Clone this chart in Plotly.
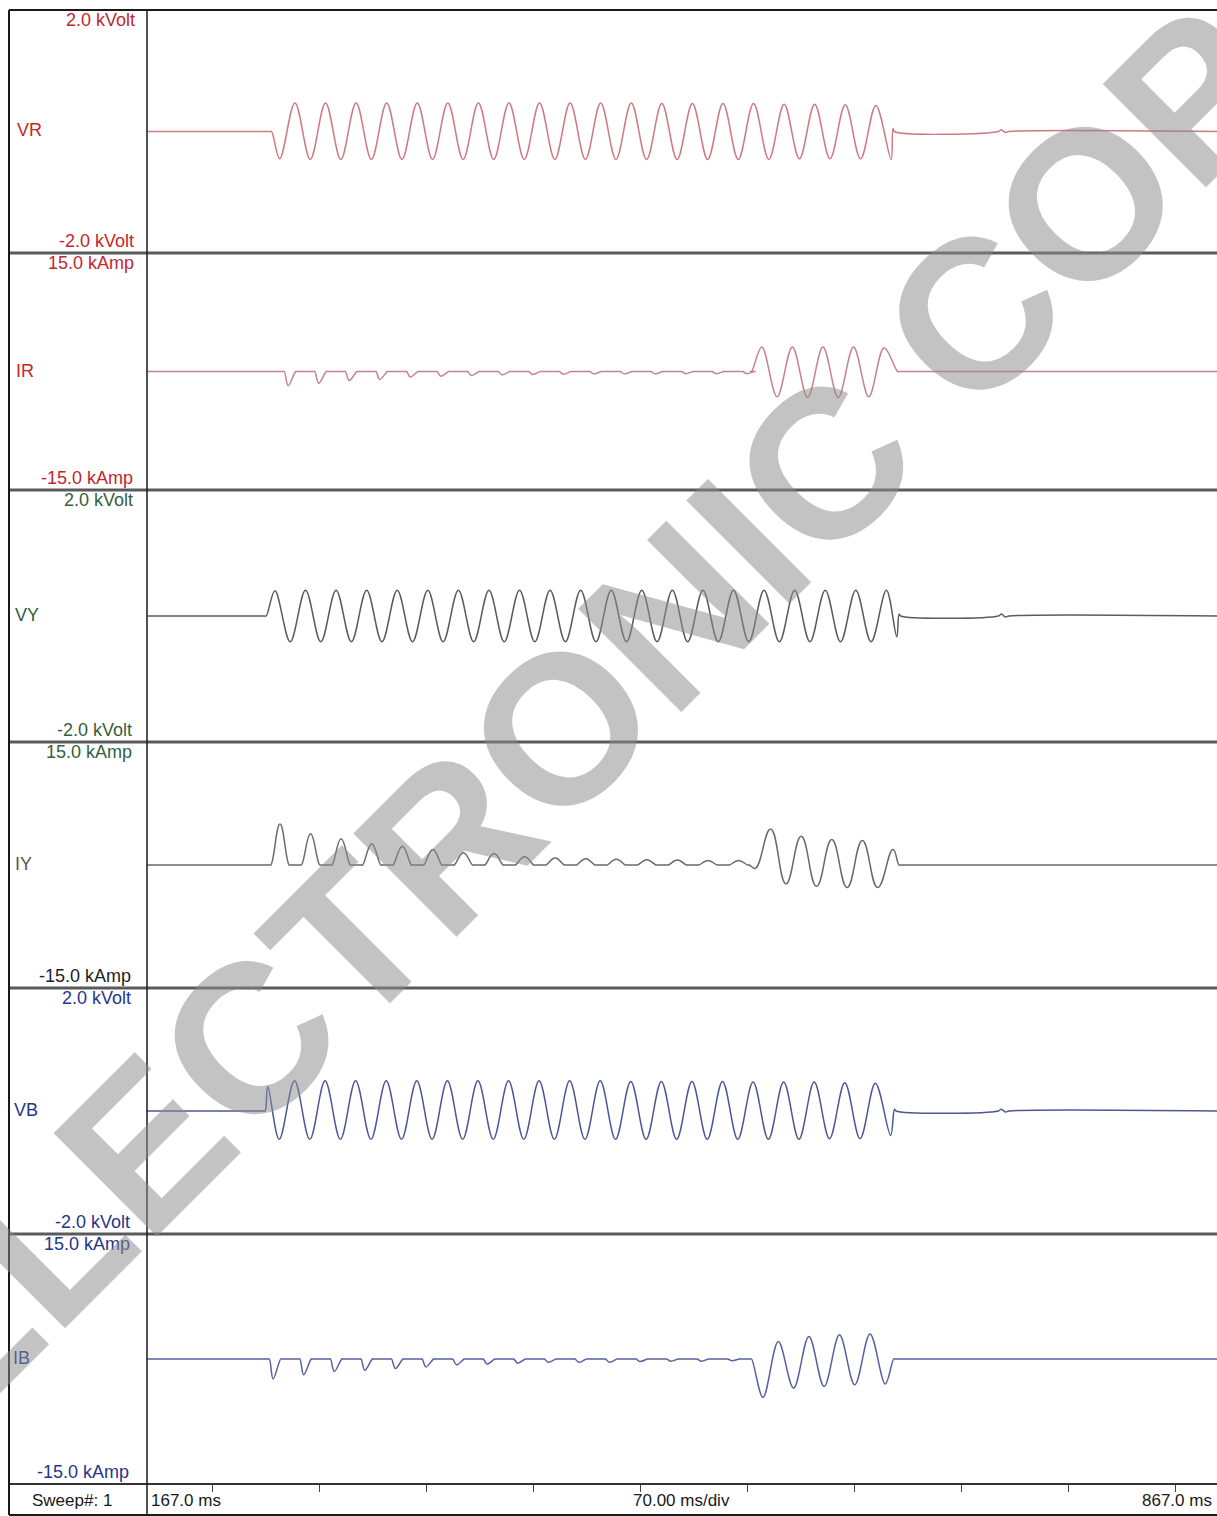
import plotly.graph_objects as go

W, H = 1217, 1516

# ---------------- data ----------------
T_START, T_END = 167.0, 867.0          # ms
TICK_TIMES = [210, 280, 350, 420, 490, 560, 630, 700, 770, 840]

CHANNELS = ["VR", "IR", "VY", "IY", "VB", "IB"]
TOP_LABELS = ["2.0 kVolt", "15.0 kAmp", "2.0 kVolt", "15.0 kAmp", "2.0 kVolt", "15.0 kAmp"]
BOTTOM_LABELS = ["-2.0 kVolt", "-15.0 kAmp", "-2.0 kVolt", "-15.0 kAmp", "-2.0 kVolt", "-15.0 kAmp"]
FULL_SCALE = [2.0, 15.0, 2.0, 15.0, 2.0, 15.0]

HALF_PERIOD = 10.0   # ms between successive extrema (50 Hz)
PULSE_PERIOD = 20.0  # ms between successive current pulses

# VR (kV)
VR_ON, VR_EXT_T0 = 248.5, 253.8
VR_EXT = [-0.45, 0.47, -0.46, 0.47, -0.46, 0.47, -0.46, 0.47, -0.46, 0.47,
          -0.46, 0.47, -0.46, 0.47, -0.46, 0.47, -0.46, 0.47, -0.46, 0.47,
          -0.46, 0.47, -0.46, 0.47, -0.46, 0.46, -0.46, 0.46, -0.46, 0.46,
          -0.46, 0.46, -0.46, 0.45, -0.45, 0.45, -0.45, 0.44, -0.45, 0.43, -0.46]
VR_TAIL_T = [655.0, 656.0]
VR_TAIL_V = [0.05, 0.0]

# IR (kA)
IR_DIP_T0 = 259.3
IR_DIPS = [-1.8, -1.5, -1.15, -1.0, -0.7, -0.6, -0.5, -0.42,
           -0.38, -0.34, -0.3, -0.3, -0.3, -0.27, -0.27, -0.27]
IR_ON, IR_EXT_T0, IR_OFF = 562.5, 569.2, 658.0
IR_EXT = [3.1, -3.2, 3.1, -3.3, 3.1, -3.3, 3.1, -3.2, 3.0]

# VY (kV)
VY_ON, VY_EXT_T0 = 245.0, 250.7
VY_EXT = [0.40, -0.41, 0.41, -0.41, 0.41, -0.41, 0.41, -0.41, 0.41, -0.41,
          0.41, -0.41, 0.41, -0.41, 0.41, -0.41, 0.41, -0.41, 0.41, -0.41,
          0.41, -0.41, 0.41, -0.41, 0.41, -0.41, 0.41, -0.41, 0.41, -0.41,
          0.41, -0.41, 0.41, -0.41, 0.41, -0.41, 0.41, -0.41, 0.41, -0.41, 0.41]
VY_TAIL_T = [657.5, 659.0, 660.0]
VY_TAIL_V = [-0.33, 0.03, 0.0]

# IY (kA)
IY_PULSE_T0 = 254.0
IY_PULSES = [5.0, 3.8, 3.2, 2.6, 2.3, 1.9, 1.5, 1.4,
             1.0, 0.85, 0.75, 0.7, 0.65, 0.6, 0.55, 0.55]
IY_ON, IY_EXT_T0, IY_OFF = 561.0, 565.0, 659.0
IY_EXT = [-0.4, 4.4, -2.3, 3.5, -2.6, 3.1, -2.75, 3.0, -2.75, 1.9]

# VB (kV)
VB_ON, VB_EXT_T0 = 244.3, 253.5
VB_HEAD_T = [246.0]
VB_HEAD_V = [0.40]
VB_EXT = [-0.46, 0.49, -0.46, 0.49, -0.46, 0.49, -0.46, 0.49, -0.46, 0.49,
          -0.46, 0.49, -0.46, 0.49, -0.46, 0.49, -0.46, 0.49, -0.46, 0.49,
          -0.46, 0.49, -0.46, 0.48, -0.46, 0.48, -0.46, 0.48, -0.46, 0.48,
          -0.46, 0.47, -0.46, 0.47, -0.46, 0.47, -0.45, 0.46, -0.45, 0.45, -0.40]
VB_TAIL_T = [656.0, 657.0]
VB_TAIL_V = [0.03, 0.0]

# IB (kA)
IB_DIP_T0 = 249.5
IB_DIPS = [-2.4, -1.9, -1.5, -1.35, -1.15, -0.95, -0.7, -0.6,
           -0.5, -0.4, -0.4, -0.4, -0.3, -0.27, -0.27, -0.2]
IB_ON, IB_EXT_T0, IB_OFF = 562.5, 570.0, 655.5
IB_EXT = [-4.6, 2.1, -3.5, 2.7, -3.3, 2.9, -3.1, 3.0, -3.0]

# small post-event ripple seen on the voltage traces
RIPPLE_T = [724.0, 726.0, 728.5, 731.0]
RIPPLE_V = [0.0, 0.03, -0.015, 0.0]

# ---------------- styling ----------------
LINE_COLORS = ["#cd7a80", "#c48489", "#5c5c5c", "#6a6a6a", "#4c5797", "#56619f"]
TEXT_COLORS = ["#c4262c", "#c4262c", "#33603d", "#33603d", "#27348b", "#27348b"]
BOTTOM_TEXT_COLORS = ["#c4262c", "#c4262c", "#33603d", "#1e1e1e", "#27348b", "#27348b"]
NAME_COLORS = ["#c4262c", "#c4262c", "#33603d", "#555555", "#27348b", "#27348b"]

SEP_Y = [10, 253, 490, 742, 988, 1234, 1484]   # pixel rows of the separators
LEFT_X, DIV_X = 9, 147
FONT = "Liberation Sans, Arial, sans-serif"


# ---------------- build traces from the data ----------------
def osc(on, t0, ext, off=None):
    t, v = [on - 1.0, on], [0.0, 0.0]
    for i, val in enumerate(ext):
        t.append(t0 + HALF_PERIOD * i)
        v.append(val)
    if off is not None:
        t += [off, off + 1.0]
        v += [0.0, 0.0]
    return t, v


def pulses(t0, vals, wl, wr):
    t, v = [], []
    for i, val in enumerate(vals):
        c = t0 + PULSE_PERIOD * i
        t += [c - wl - 1.0, c - wl, c, c + wr, c + wr + 1.0]
        v += [0.0, 0.0, val, 0.0, 0.0]
    return t, v


series = []
# VR
t, v = osc(VR_ON, VR_EXT_T0, VR_EXT)
t = [T_START] + t + VR_TAIL_T + RIPPLE_T + [T_END]
v = [0.0] + v + VR_TAIL_V + RIPPLE_V + [0.0]
series.append((t, v))
# IR
pt, pv = pulses(IR_DIP_T0, IR_DIPS, 2.5, 5.0)
ot, ov = osc(IR_ON, IR_EXT_T0, IR_EXT, IR_OFF)
series.append(([T_START] + pt + ot + [T_END], [0.0] + pv + ov + [0.0]))
# VY
t, v = osc(VY_ON, VY_EXT_T0, VY_EXT)
t = [T_START] + t + VY_TAIL_T + RIPPLE_T + [T_END]
v = [0.0] + v + VY_TAIL_V + RIPPLE_V + [0.0]
series.append((t, v))
# IY
pt, pv = pulses(IY_PULSE_T0, IY_PULSES, 6.0, 6.0)
ot, ov = osc(IY_ON, IY_EXT_T0, IY_EXT, IY_OFF)
series.append(([T_START] + pt + ot + [T_END], [0.0] + pv + ov + [0.0]))
# VB
t, v = osc(VB_ON, VB_EXT_T0, VB_EXT)
t = [T_START] + t[:2] + VB_HEAD_T + t[2:] + VB_TAIL_T + RIPPLE_T + [T_END]
v = [0.0] + v[:2] + VB_HEAD_V + v[2:] + VB_TAIL_V + RIPPLE_V + [0.0]
series.append((t, v))
# IB
pt, pv = pulses(IB_DIP_T0, IB_DIPS, 2.5, 5.0)
ot, ov = osc(IB_ON, IB_EXT_T0, IB_EXT, IB_OFF)
series.append(([T_START] + pt + ot + [T_END], [0.0] + pv + ov + [0.0]))

fig = go.Figure()
layout = dict(
    width=W, height=H, margin=dict(l=0, r=0, t=0, b=0),
    paper_bgcolor="white", plot_bgcolor="white", showlegend=False,
    font=dict(family=FONT, size=18),
)

for i, (name, (t, v)) in enumerate(zip(CHANNELS, series)):
    k = "" if i == 0 else str(i + 1)
    fig.add_trace(go.Scatter(
        x=t, y=v, mode="lines", name=name,
        line=dict(color=LINE_COLORS[i], width=1.5, shape="spline",
                  smoothing=1.3 if name == "IY" else 1.0),
        xaxis="x" + k, yaxis="y" + k, hoverinfo="skip",
    ))
    y0 = 1 - SEP_Y[i + 1] / H
    y1 = 1 - SEP_Y[i] / H
    last = i == len(CHANNELS) - 1
    layout["xaxis" + k] = dict(
        domain=[DIV_X / W, 1], range=[T_START, T_END], anchor="y" + k,
        showgrid=False, zeroline=False, showline=False,
        showticklabels=False,
        ticks="outside" if last else "", ticklen=7, tickwidth=1, tickcolor="#444",
        tickvals=TICK_TIMES if last else [],
        fixedrange=True,
    )
    layout["yaxis" + k] = dict(
        domain=[y0, y1], range=[-FULL_SCALE[i], FULL_SCALE[i]], anchor="x" + k,
        visible=False, fixedrange=True,
    )

fig.update_layout(**layout)

# frame lines
shapes = []
def hline(ypx, color, width, x0=LEFT_X, x1=W):
    shapes.append(dict(type="line", xref="paper", yref="paper",
                       x0=x0 / W, x1=x1 / W, y0=1 - ypx / H, y1=1 - ypx / H,
                       line=dict(color=color, width=width)))
def vline(xpx, color, width, y0=SEP_Y[0], y1=H - 1):
    shapes.append(dict(type="line", xref="paper", yref="paper",
                       x0=xpx / W, x1=xpx / W, y0=1 - y0 / H, y1=1 - y1 / H,
                       line=dict(color=color, width=width)))

hline(SEP_Y[0], "#1a1a1a", 2)
for yy in SEP_Y[1:-1]:
    hline(yy, "#5a5a5a", 3)
hline(SEP_Y[-1], "#333333", 2)
hline(H - 1, "#1a1a1a", 2)
vline(LEFT_X, "#1a1a1a", 2)
vline(DIV_X, "#1a1a1a", 1.5)
fig.update_layout(shapes=shapes)

# texts
ann = []
def text(xpx, ypx, s, color, anchor="right", size=18):
    ann.append(dict(xref="paper", yref="paper", x=xpx / W, y=1 - ypx / H,
                    text=s, showarrow=False, xanchor=anchor, yanchor="middle",
                    font=dict(family=FONT, size=size, color=color)))

for i in range(6):
    top, bot = SEP_Y[i], SEP_Y[i + 1]
    mid = (top + bot) / 2
    xr = 137 - i
    text(xr, top + 10, TOP_LABELS[i], TEXT_COLORS[i])
    text(xr - 1, bot - 12, BOTTOM_LABELS[i], BOTTOM_TEXT_COLORS[i])
    text(15 - i * 0.8, mid - 1, CHANNELS[i], NAME_COLORS[i], anchor="left")

text(72, 1500, "Sweep#: 1", "#1a1a1a", anchor="center", size=17)
text(149, 1500, "167.0 ms", "#1a1a1a", anchor="left", size=17)
text(681, 1500, "70.00 ms/div", "#1a1a1a", anchor="center", size=17)
text(1214, 1500, "867.0 ms", "#1a1a1a", anchor="right", size=17)

# watermark
ann.append(dict(xref="paper", yref="paper", x=624 / W, y=1 - 666 / H,
                text="<b>ELECTRONIC COPY</b>", showarrow=False,
                xanchor="center", yanchor="middle", textangle=-45,
                font=dict(family=FONT, size=212, color="rgba(140,140,140,0.52)")))
fig.update_layout(annotations=ann)

fig.write_html("out.html")
